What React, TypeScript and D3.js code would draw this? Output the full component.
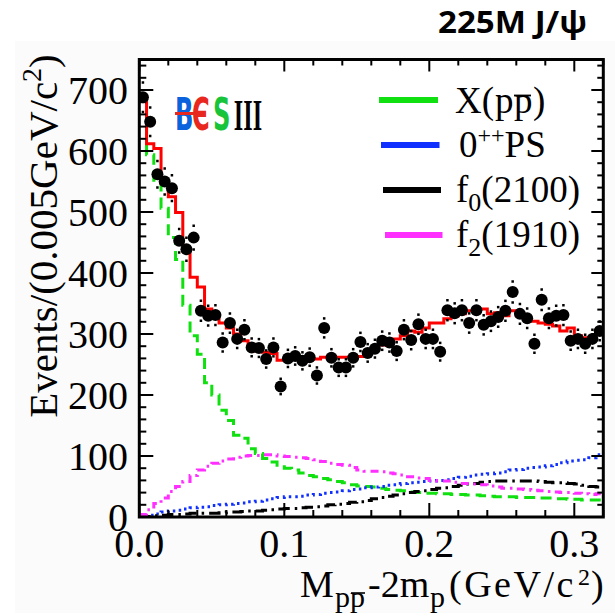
import * as d3 from "d3";

// bins of 0.005 GeV/c^2 from 0 to 0.32
const binWidth = 0.005;

const dataCounts = [
  688, 648, 562, 550, 539, 453, 439, 458, 338, 330, 331, 286, 318, 292, 307, 278,
  277, 259, 278, 214, 260, 264, 256, 262, 232, 310, 261, 245, 245, 261, 287, 269,
  276, 289, 286, 272, 307, 290, 316, 292, 292, 271, 339, 334, 339, 318, 339, 315,
  321, 328, 338, 369, 333, 326, 284, 356, 326, 330, 331, 289, 292, 284, 292, 305,
];

const fitTotal = [
  687, 612, 604, 547, 525, 499, 436, 393, 377, 341, 330, 318, 310, 300, 289, 280,
  272, 270, 268, 257, 257, 260, 258, 262, 259, 262, 264, 262, 262, 261, 263, 268,
  274, 282, 286, 292, 297, 305, 303, 310, 318, 318, 325, 330, 333, 338, 339, 341,
  333, 335, 330, 338, 330, 325, 321, 318, 316, 313, 305, 310, 297, 294, 294, 300,
];

const xppComp = [
  683, 594, 552, 506, 458, 422, 347, 297, 267, 220, 200, 175, 158, 134, 129, 112,
  104, 96, 90, 85, 80, 77, 72, 68, 66, 63, 61, 58, 56, 53, 51, 50,
  49, 47, 45, 44, 43, 41, 40, 39, 39, 38, 38, 37, 37, 36, 36, 35,
  34, 33, 33, 33, 32, 32, 32, 31, 31, 30, 30, 29, 29, 28, 28, 28,
];

const ps0Comp = [
  1, 3, 5, 8, 10, 11, 13, 15, 16, 17, 19, 20, 21, 22, 23, 25,
  26, 28, 30, 32, 33, 33, 34, 36, 37, 39, 40, 41, 43, 45, 46, 48,
  49, 50, 52, 53, 55, 56, 57, 58, 59, 60, 61, 63, 65, 67, 69, 70,
  71, 72, 74, 77, 78, 80, 81, 82, 84, 86, 89, 92, 93, 94, 97, 102,
];

const f0Comp = [
  0, 1, 2, 3, 4, 4, 5, 6, 6, 6, 6, 7, 8, 8, 9, 10,
  10, 11, 12, 13, 14, 14, 15, 16, 17, 18, 20, 21, 22, 24, 25, 27,
  30, 32, 34, 36, 38, 40, 42, 43, 45, 47, 48, 50, 52, 54, 55, 57,
  58, 59, 59, 59, 59, 59, 59, 58, 57, 56, 56, 55, 54, 52, 50, 49,
];

const f2Comp = [
  4, 12, 22, 31, 42, 50, 58, 68, 77, 83, 88, 92, 95, 98, 100, 101,
  101, 102, 102, 100, 99, 98, 97, 96, 94, 91, 88, 86, 85, 81, 77, 75,
  75, 74, 72, 71, 69, 66, 64, 63, 60, 59, 59, 57, 55, 55, 54, 53,
  51, 49, 47, 47, 46, 45, 44, 43, 42, 41, 40, 40, 39, 38, 37, 38,
];

const xMajorTicks = [0, 0.1, 0.2, 0.3];
const xTickLabels = ["0.0", "0.1", "0.2", "0.3"];
const yMajorTicks = [0, 100, 200, 300, 400, 500, 600, 700];

const xScale = d3.scaleLinear().domain([0, 0.32]).range([139.3, 603.3]);
const yScale = d3.scaleLinear().domain([0, 750]).range([517, 59.5]);

const serif = "'Liberation Serif', 'Times New Roman', serif";

const stepPath = (vals: number[]) => {
  const pts: [number, number][] = vals.map((v, i) => [i * binWidth, v]);
  pts.push([vals.length * binWidth, vals[vals.length - 1]]);
  return d3
    .line<[number, number]>()
    .x((d) => xScale(d[0]))
    .y((d) => yScale(d[1]))
    .curve(d3.curveStepAfter)(pts) as string;
};

const components = [
  { vals: xppComp, color: "#10e010", dash: "11 6" },
  { vals: ps0Comp, color: "#1030ff", dash: "2.5 4" },
  { vals: f0Comp, color: "#000000", dash: "12 5 2.5 5" },
  { vals: f2Comp, color: "#ff30ff", dash: "8 5 2.5 5" },
];

const legendColors = ["#10e010", "#1030ff", "#000000", "#ff30ff"];

export default function App() {
  const [x0, x1] = xScale.range();
  const [y0, y1] = yScale.range();
  const xMinor = d3.range(0, 0.3201, 0.02).filter((t) => !xMajorTicks.some((m) => Math.abs(m - t) < 1e-6));
  const yMinor = d3.range(0, 751, 20).filter((t) => t % 100 !== 0);

  return (
    <svg width={615} height={616} style={{ display: "block", position: "absolute", left: 0, top: 0 }}>
      <rect x={0} y={0} width={615} height={616} fill="#ffffff" />
      <rect x={15} y={41} width={600} height={572} fill="#fbfbfb" />
      <rect x={x0} y={y1} width={x1 - x0} height={y0 - y1} fill="#ffffff" />

      {/* title */}
      <text x={438} y={33} fontFamily="'Open Sans', sans-serif" fontWeight={700} fontSize={30} textLength={149} lengthAdjust="spacingAndGlyphs">
        225M J/ψ
      </text>

      <defs>
        <clipPath id="plotClip">
          <rect x={x0} y={y1} width={x1 - x0} height={y0 - y1} />
        </clipPath>
      </defs>

      <g clipPath="url(#plotClip)">
        {components.map((c, i) => (
          <path key={i} d={stepPath(c.vals)} fill="none" stroke={c.color} strokeWidth={3} strokeDasharray={c.dash} />
        ))}
        <path d={stepPath(fitTotal)} fill="none" stroke="#ff0000" strokeWidth={3} />
        {dataCounts.map((v, i) => {
          const cx = xScale((i + 0.5) * binWidth);
          const err = Math.sqrt(v);
          const yt = yScale(v + err);
          const yb = yScale(v - err);
          return (
            <g key={i}>
              <line x1={cx} x2={cx} y1={yt} y2={yt + 2.5} stroke="#000" strokeWidth={2.5} />
              <line x1={cx} x2={cx} y1={yb - 2.5} y2={yb} stroke="#000" strokeWidth={2.5} />
              <circle cx={cx} cy={yScale(v)} r={6} fill="#000" />
            </g>
          );
        })}
      </g>

      {/* frame + ticks */}
      <g stroke="#000" strokeWidth={2}>
        {xMajorTicks.map((t) => (
          <g key={"xm" + t}>
            <line x1={xScale(t)} x2={xScale(t)} y1={y0} y2={y0 - 14} />
            <line x1={xScale(t)} x2={xScale(t)} y1={y1} y2={y1 + 12} />
          </g>
        ))}
        {xMinor.map((t) => (
          <g key={"xn" + t}>
            <line x1={xScale(t)} x2={xScale(t)} y1={y0} y2={y0 - 7} />
            <line x1={xScale(t)} x2={xScale(t)} y1={y1} y2={y1 + 6} />
          </g>
        ))}
        {yMajorTicks.map((t) => (
          <g key={"ym" + t}>
            <line x1={x0} x2={x0 + 14} y1={yScale(t)} y2={yScale(t)} />
            <line x1={x1} x2={x1 - 12} y1={yScale(t)} y2={yScale(t)} />
          </g>
        ))}
        {yMinor.map((t) => (
          <g key={"yn" + t}>
            <line x1={x0} x2={x0 + 7} y1={yScale(t)} y2={yScale(t)} />
            <line x1={x1} x2={x1 - 6} y1={yScale(t)} y2={yScale(t)} />
          </g>
        ))}
      </g>
      <rect x={x0} y={y1} width={x1 - x0} height={y0 - y1} fill="none" stroke="#000" strokeWidth={3} />

      {/* tick labels */}
      <g fontFamily={serif} fontSize={40} fill="#000">
        {yMajorTicks.map((t) => (
          <text key={"yl" + t} x={128} y={yScale(t) + 14} textAnchor="end">
            {t}
          </text>
        ))}
        {xMajorTicks.map((t, i) => (
          <text key={"xl" + t} x={xScale(t)} y={557} textAnchor="middle">
            {xTickLabels[i]}
          </text>
        ))}
      </g>

      {/* axis titles */}
      <text transform="translate(57,236) rotate(-90)" textAnchor="middle" fontFamily={serif} fontSize={41}>
        Events/(0.005GeV/c
        <tspan fontSize={28} dy={-16}>2</tspan>
        <tspan dy={16}>)</tspan>
      </text>
      <text fontFamily={serif} fontSize={38}>
        <tspan x={300} y={597}>M</tspan>
        <tspan x={335} y={607} fontSize={30}>pp</tspan>
        <tspan x={368} y={597}>-2m</tspan>
        <tspan x={430} y={607} fontSize={30}>p</tspan>
        <tspan x={449} y={597} letterSpacing={2.5}>(GeV/c</tspan>
        <tspan x={578} y={585} fontSize={24}>2</tspan>
        <tspan x={591} y={597}>)</tspan>
      </text>
      <line x1={351} x2={365} y1={593} y2={593} stroke="#000" strokeWidth={1.6} />

      {/* legend */}
      {legendColors.map((c, i) => (
        <line key={i} x1={379 + i * 2} x2={438 + i * 1.5} y1={100 + i * 45} y2={100 + i * 45} stroke={c} strokeWidth={6} />
      ))}
      <g fontFamily={serif} fontSize={37} fill="#000">
        <text>
          <tspan x={455} y={113}>X(</tspan>
          <tspan x={495} y={113}>p</tspan>
          <tspan x={514} y={113}>p</tspan>
          <tspan x={533} y={113}>)</tspan>
        </text>
        <text x={459} y={157}>
          0<tspan fontSize={24} dy={-14}>++</tspan>
          <tspan dy={14}>PS</tspan>
        </text>
        <text x={456} y={202}>
          f<tspan fontSize={26} dy={9}>0</tspan>
          <tspan dy={-9}>(2100)</tspan>
        </text>
        <text x={456} y={247}>
          f<tspan fontSize={26} dy={9}>2</tspan>
          <tspan dy={-9}>(1910)</tspan>
        </text>
      </g>
      <line x1={514} x2={531} y1={95.5} y2={95.5} stroke="#000" strokeWidth={1.8} />

      {/* BESIII logo */}
      <g transform="translate(175,130) scale(0.55,1)">
        <text fontFamily="'DejaVu Sans', sans-serif" fontWeight={700} fontSize={44}>
          <tspan x={0} y={0} fill="#0a62dc">B</tspan>
          <tspan x={31} y={0} fill="#e8281e">Є</tspan>
          <tspan x={69} y={0} fill="#18c43a">S</tspan>
          <tspan x={107} y={0} fill="#000" fontFamily={serif}>III</tspan>
        </text>
      </g>
      <line x1={175} x2={202} y1={113.5} y2={113.5} stroke="#e8281e" strokeWidth={3} />
    </svg>
  );
}
